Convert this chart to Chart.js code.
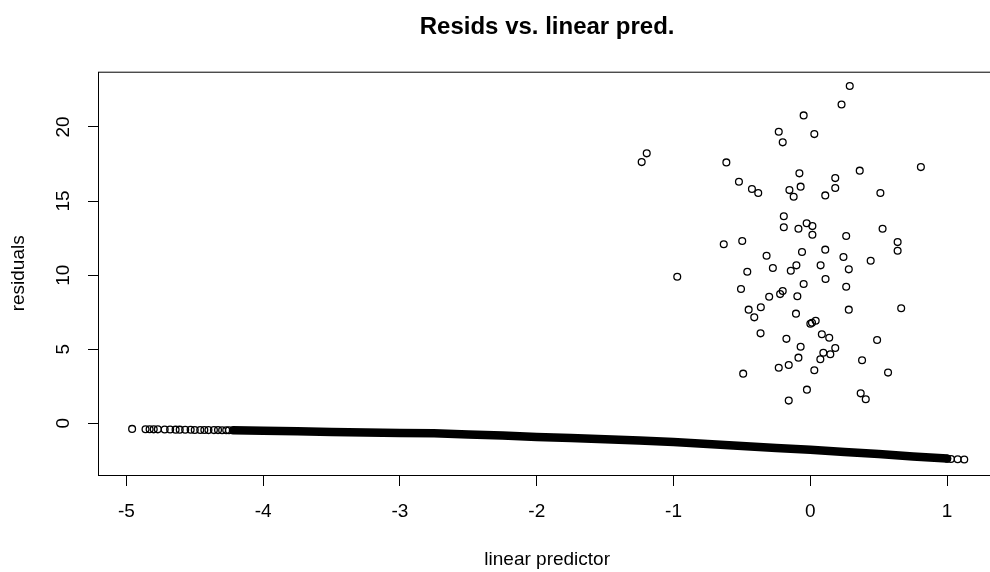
<!DOCTYPE html>
<html>
<head>
<meta charset="utf-8">
<script src="https://cdn.jsdelivr.net/npm/chart.js@4.4.1/dist/chart.umd.min.js"></script>
<style>
  html, body { margin: 0; padding: 0; background: #fff; overflow: hidden; }
  body { width: 990px; height: 572px; }
  #wrap { width: 1000px; height: 572px; }
</style>
</head>
<body>
<div id="wrap"><canvas id="residChart" width="1000" height="572"></canvas></div>
<script>
// tick positions
const xTicks = [-5, -4, -3, -2, -1, 0, 1];
const yTicks = [0, 5, 10, 15, 20];

// observations with nonzero response
const clusterX = [0.288, 0.228, -0.049, -0.231, 0.029, -0.202, -1.196, -1.233, -0.614, 0.808,
  0.361, -0.080, 0.182, -0.522, -0.071, 0.182, -0.427, -0.381, -0.153, -0.122,
  0.109, 0.512, -0.194, -0.194, -0.087, -0.027, 0.015, 0.015, 0.262, 0.528,
  -0.633, -0.498, 0.638, 0.638, -0.061, 0.109, -0.320, 0.242, 0.441, -0.973,
  -0.461, -0.274, -0.143, -0.102, 0.075, 0.281, 0.111, -0.049, 0.262, -0.507,
  -0.301, -0.221, -0.202, -0.095, -0.451, -0.362, -0.410, -0.105, 0.281, 0.664,
  0.000, 0.039, 0.012, -0.364, -0.175, 0.084, 0.138, 0.488, -0.071, 0.182,
  0.095, 0.146, -0.087, 0.073, 0.378, -0.231, -0.158, 0.029, -0.491, 0.568,
  -0.025, 0.368, 0.405, -0.158];
const clusterY = [22.76, 21.52, 20.78, 19.68, 19.52, 18.96, 18.22, 17.63, 17.61, 17.29,
  17.05, 16.87, 16.55, 16.30, 15.97, 15.88, 15.81, 15.54, 15.74, 15.29,
  15.38, 15.54, 13.97, 13.23, 13.13, 13.50, 13.31, 12.73, 12.64, 13.13,
  12.08, 12.30, 12.23, 11.65, 11.56, 11.72, 11.31, 11.22, 10.97, 9.89,
  10.23, 10.48, 10.30, 10.66, 10.66, 10.39, 9.74, 9.40, 9.22, 9.06,
  8.54, 8.72, 8.93, 8.57, 7.67, 7.83, 7.15, 7.40, 7.67, 7.76,
  6.72, 6.92, 6.79, 6.07, 5.70, 6.01, 5.77, 5.62, 5.17, 5.08,
  4.76, 4.66, 4.43, 4.32, 4.25, 3.75, 3.93, 3.58, 3.35, 3.42,
  2.27, 2.02, 1.62, 1.53];

// zero-response observations where they still show as separate circles
const sparseX = [-4.958, -4.86, -4.83, -4.80, -4.77, -4.72, -4.68, -4.64, -4.61, -4.57,
  -4.53, -4.50, -4.46, -4.43, -4.40, -4.36, -4.33, -4.30, -4.27, -4.25,
  1.000, 1.028, 1.077, 1.125];
const sparseY = [-0.38, -0.40, -0.40, -0.41, -0.41, -0.42, -0.42, -0.43, -0.43, -0.44,
  -0.44, -0.45, -0.45, -0.45, -0.46, -0.46, -0.46, -0.47, -0.47, -0.47,
  -2.39, -2.41, -2.43, -2.44];

// centre of the solid band of overlapping zero-response circles
const bandX = [-4.22, -4.0, -3.75, -3.5, -3.25, -3.0, -2.75, -2.5, -2.25, -2.0,
  -1.75, -1.5, -1.25, -1.0, -0.75, -0.5, -0.25, 0.0, 0.25, 0.5, 0.75, 1.0];
const bandY = [-0.47, -0.50, -0.54, -0.58, -0.62, -0.65, -0.68, -0.75, -0.83, -0.92,
  -0.99, -1.07, -1.16, -1.26, -1.40, -1.53, -1.66, -1.78, -1.93, -2.07, -2.24, -2.38];

const FONT = '"Liberation Sans", Arial, sans-serif';

function toPoints(xs, ys) {
  return xs.map((x, i) => ({ x: x, y: ys[i] }));
}

const circleStyle = {
  showLine: false,
  pointStyle: 'circle',
  pointRadius: 3.4,
  pointBorderWidth: 1.3,
  pointBorderColor: '#000',
  pointBackgroundColor: 'rgba(0,0,0,0)',
  pointHoverRadius: 3.4
};

// plot box plus rotated y tick labels
const boxPlugin = {
  id: 'rBox',
  afterDraw(chart) {
    const { ctx, chartArea } = chart;
    ctx.save();
    ctx.strokeStyle = '#000';
    ctx.lineWidth = 1;
    ctx.strokeRect(chartArea.left - 0.5, chartArea.top + 0.5,
      chartArea.right - chartArea.left, chartArea.bottom - chartArea.top);

    const yScale = chart.scales.y;
    ctx.fillStyle = '#000';
    ctx.font = '19px ' + FONT;
    ctx.textAlign = 'center';
    ctx.textBaseline = 'middle';
    yTicks.forEach(v => {
      const py = yScale.getPixelForValue(v);
      ctx.save();
      ctx.translate(64, py);
      ctx.rotate(-Math.PI / 2);
      ctx.fillText(String(v), 0, 0);
      ctx.restore();
    });
    ctx.restore();
  }
};

const ctx = document.getElementById('residChart').getContext('2d');
new Chart(ctx, {
  type: 'scatter',
  data: {
    datasets: [
      {
        label: 'band',
        data: toPoints(bandX, bandY),
        showLine: true,
        borderColor: '#000',
        borderWidth: 8.5,
        borderCapStyle: 'round',
        borderJoinStyle: 'round',
        pointRadius: 0,
        pointHoverRadius: 0,
        tension: 0
      },
      Object.assign({ label: 'zero', data: toPoints(sparseX, sparseY) }, circleStyle),
      Object.assign({ label: 'nonzero', data: toPoints(clusterX, clusterY) }, circleStyle)
    ]
  },
  options: {
    responsive: false,
    animation: false,
    events: [],
    layout: { padding: 0 },
    plugins: {
      legend: { display: false },
      tooltip: { enabled: false },
      title: {
        display: true,
        fullSize: false,
        text: 'Resids vs. linear pred.',
        color: '#000',
        font: { family: FONT, size: 24, weight: 'bold' },
        padding: { top: 12.5, bottom: 30.4 }
      }
    },
    scales: {
      x: {
        type: 'linear',
        min: -5.20,
        max: 1.352,
        afterFit(scale) { scale.height = 97; },
        afterBuildTicks(scale) { scale.ticks = xTicks.map(v => ({ value: v })); },
        border: { display: false },
        grid: { drawOnChartArea: false, color: '#000', tickLength: 11, lineWidth: 1 },
        ticks: {
          color: '#000',
          font: { family: FONT, size: 19 },
          padding: 14,
          maxRotation: 0,
          autoSkip: false
        },
        title: {
          display: true,
          text: 'linear predictor',
          color: '#000',
          font: { family: FONT, size: 19 },
          padding: { top: 0, bottom: 1 }
        }
      },
      y: {
        type: 'linear',
        min: -3.49,
        max: 23.73,
        afterFit(scale) { scale.width = 99; },
        afterBuildTicks(scale) { scale.ticks = yTicks.map(v => ({ value: v })); },
        border: { display: false },
        grid: { drawOnChartArea: false, color: '#000', tickLength: 11, lineWidth: 1 },
        ticks: { display: false },
        title: {
          display: true,
          text: 'residuals',
          color: '#000',
          font: { family: FONT, size: 19 },
          padding: { top: 7, bottom: 0 }
        }
      }
    }
  },
  plugins: [boxPlugin]
});
</script>
</body>
</html>
